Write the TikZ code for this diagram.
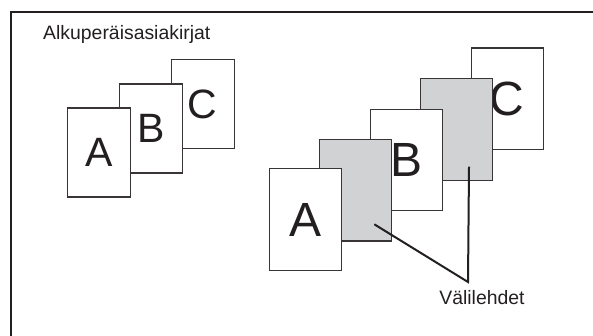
\documentclass[tikz,border=0pt]{standalone}
\usepackage{fontspec}
\setmainfont{Liberation Sans}
\definecolor{ink}{RGB}{35,31,32}
\definecolor{tabgray}{RGB}{209,210,212}
\begin{document}
\begin{tikzpicture}[x=1pt,y=-1pt,
  page/.style={draw=ink!90, line width=1.2pt, fill=white, inner sep=0pt, outer sep=0pt, text=ink},
  smallpage/.style={page, minimum width=63pt, minimum height=89pt, font=\fontsize{41}{41}\selectfont},
  bigpage/.style={page, minimum width=72pt, minimum height=101.5pt, font=\fontsize{48}{48}\selectfont},
  tabpage/.style={bigpage, fill=tabgray},
  label/.style={inner sep=0pt, text=ink, font=\fontsize{19.4}{22}\selectfont},
  leader/.style={draw=ink, line width=2pt}
]
\useasboundingbox (0,0) rectangle (593,336);
% frame
\coordinate (fbl) at (11,336);
\coordinate (ftl) at (11,12);
\coordinate (ftr) at (593,12);
\draw[draw=ink, line width=2.3pt] (fbl) -- (ftl) -- (ftr);
% title
\node[label, anchor=base west] (title) at (43,40) {Alkuperäisasiakirjat};
% left group
\node[smallpage] (lC) at (202.8,104.3) {C};
\node[smallpage] (lB) at (151.2,128.5) {B};
\node[smallpage] (lA) at (99.3,152.5) {A};
% right group
\node[bigpage] (rC) at (507.2,98.7) {C};
\node[tabpage] (g2) at (456.5,129.5) {};
\node[bigpage] (rB) at (406.2,160) {B};
\node[tabpage] (g1) at (355.8,190.2) {};
\node[bigpage] (rA) at (305.2,219.5) {A};
% leaders
\coordinate (p1) at (374.3,224.3);
\coordinate (p2) at (469,166.7);
\coordinate (tip) at (468,282);
\draw[leader, line join=miter] (p1) -- (tip) -- (p2);
\node[label, anchor=base] (tabs) at (482,304) {Välilehdet};
\end{tikzpicture}
\end{document}
